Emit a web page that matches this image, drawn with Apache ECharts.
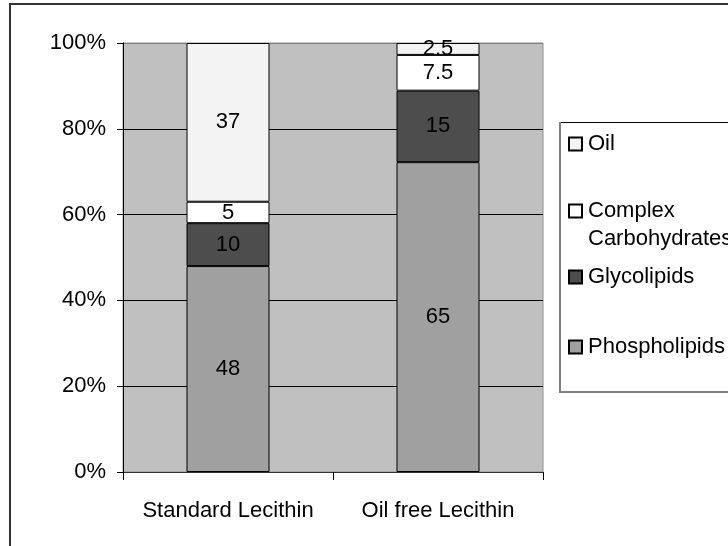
<!DOCTYPE html>
<html>
<head>
<meta charset="utf-8">
<script src="https://cdn.jsdelivr.net/npm/echarts@6/dist/echarts.min.js"></script>
<style>html,body{margin:0;padding:0;background:#fff}#c{width:728px;height:546px}</style>
</head>
<body>
<div id="c"></div>
<script>
const categories = ['Standard Lecithin', 'Oil free Lecithin'];
const phospholipids = [48, 65];
const glycolipids = [10, 15];
const complexCarbohydrates = [5, 7.5];
const oil = [37, 2.5];
const yTicks = [0, 20, 40, 60, 80, 100];

const seriesDefs = [
  { name: 'Phospholipids', data: phospholipids, color: '#a0a0a0' },
  { name: 'Glycolipids', data: glycolipids, color: '#4d4d4d' },
  { name: 'Complex Carbohydrates', data: complexCarbohydrates, color: '#ffffff' },
  { name: 'Oil', data: oil, color: '#f3f3f3' }
];
const totals = categories.map((c, i) => seriesDefs.reduce((s, d) => s + d.data[i], 0));

const FONT = 'Liberation Sans, Arial, sans-serif';
const FS = 22;
const chart = echarts.init(document.getElementById('c'), null, { renderer: 'canvas' });

function legendAt(name, top, label) {
  return {
    data: [name], left: 568, top: top, orient: 'vertical', padding: 0,
    itemWidth: 13, itemHeight: 13, itemGap: 0, icon: 'rect',
    selectedMode: false,
    formatter: () => label,
    textStyle: { fontFamily: FONT, fontSize: FS, color: '#000', lineHeight: 24, padding: [0, 0, 0, 1] }
  };
}

chart.setOption({
  animation: false,
  backgroundColor: '#ffffff',
  textStyle: { fontFamily: FONT },
  grid: { left: 123, right: 185, top: 43, bottom: 74, show: true, backgroundColor: '#c0c0c0', borderColor: '#909090', borderWidth: 1 },
  xAxis: {
    type: 'category', data: categories,
    axisLine: { lineStyle: { color: '#333', width: 1 } },
    axisTick: { show: true, length: 8, alignWithLabel: false, lineStyle: { color: '#000' } },
    axisLabel: { fontFamily: FONT, fontSize: FS, color: '#000', margin: 28, interval: 0, hideOverlap: false }
  },
  yAxis: {
    type: 'value', min: yTicks[0], max: yTicks[yTicks.length - 1], interval: 20,
    axisLine: { show: true, lineStyle: { color: '#000', width: 1 } },
    axisTick: { show: true, length: 6, lineStyle: { color: '#000' } },
    axisLabel: { fontFamily: FONT, fontSize: FS, color: '#000', margin: 17, formatter: '{value}%' },
    splitLine: { show: true, lineStyle: { color: ['#707070', '#000', '#000', '#000', '#000', '#808080'], width: 1 } }
  },
  legend: [
    legendAt('Oil', 132, 'Oil'),
    legendAt('Complex Carbohydrates', 199, 'Complex'),
    legendAt('Glycolipids', 265, 'Glycolipids'),
    legendAt('Phospholipids', 335, 'Phospholipids')
  ],
  graphic: [
    { type: 'rect', shape: { x: 10, y: 4, width: 760, height: 600 }, style: { fill: null, stroke: '#333', lineWidth: 2 }, silent: true },
    { type: 'rect', shape: { x: 559.5, y: 122.5, width: 200, height: 269 }, style: { fill: '#fff', stroke: '#000', lineWidth: 1 }, z: -1, silent: true },
    { type: 'line', shape: { x1: 560, y1: 122, x2: 560, y2: 392 }, style: { stroke: '#808080', lineWidth: 2 }, silent: true },
    { type: 'line', shape: { x1: 559, y1: 392, x2: 740, y2: 392 }, style: { stroke: '#808080', lineWidth: 2 }, silent: true },
    { type: 'text', left: 588, top: 228, style: { text: 'Carbohydrates', font: FS + 'px ' + FONT, fill: '#000' }, silent: true }
  ],
  series: seriesDefs.map(d => ({
    name: d.name, type: 'bar', stack: 'total', barWidth: 83,
    data: d.data.map((v, i) => ({ value: v / totals[i] * 100, raw: v })),
    itemStyle: { color: d.color, borderColor: '#000', borderWidth: 1 },
    label: {
      show: true, position: 'inside', color: '#000', fontFamily: FONT, fontSize: FS,
      formatter: p => String(p.data.raw)
    }
  }))
});
</script>
</body>
</html>
